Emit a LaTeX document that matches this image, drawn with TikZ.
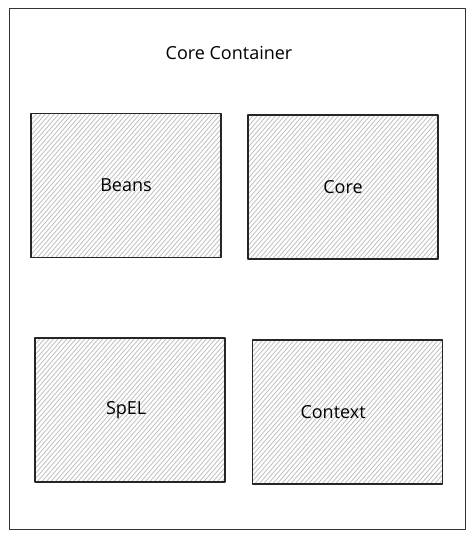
\documentclass[tikz,border=0pt]{standalone}
\usepackage{fontspec}
\setmainfont{Open Sans}
\begin{document}
\begin{tikzpicture}[line join = round, line cap = round, x = 1pt, y = 1pt]
%Khung và kích thước các khối
\def\bw{190}     \def\bh{144}
\tikzset{
  hatch/.style={draw = black!25, line width = .8pt},
  module/.style={draw = black!85, line width = 1.1pt, minimum width = \bw pt, minimum height = \bh pt,
    font = \fontsize{18}{21}\selectfont,
    path picture={\foreach \i in {-160,-155.5,...,200}
      \draw[hatch] ([xshift=\i pt]path picture bounding box.south west) -- ++(170,170*1.15);}},
  frame/.style={draw = black!80, line width = .9pt}
}
\useasboundingbox (0,0) rectangle (474,538);
%Khung ngoài
\draw[frame] (9,9) rectangle (465,530);
\node[font = \fontsize{18}{21}\selectfont] (title) at (229,485) {Core Container};
%Các khối
\node[module] (beans) at (126,352.5) {Beans};
\node[module] (core) at (343,351) {Core};
\node[module, text width = \bw pt - 30pt, align = left] (spel) at (130,128) {\hspace{56pt}SpEL};
\node[module, text width = \bw pt - 30pt, align = left] (context) at (347.5,126) {\hspace{33pt}Context};
\end{tikzpicture}
\end{document}
